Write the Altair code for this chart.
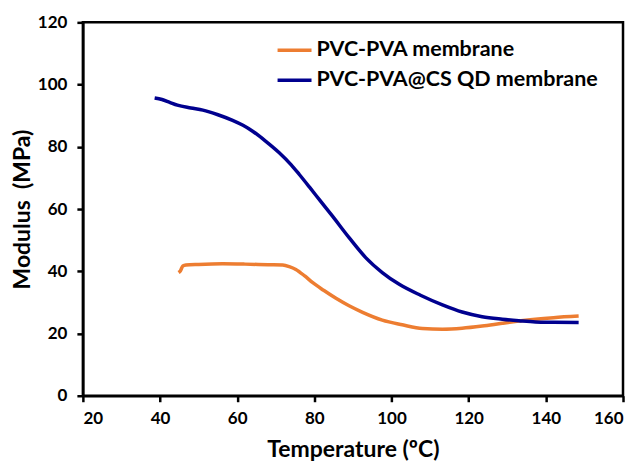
import altair as alt
import pandas as pd

series_names = ["PVC-PVA membrane", "PVC-PVA@CS QD membrane"]
series_colors = ["#ED7D31", "#00008F"]

pvc_temp = [44.8, 45.3, 45.9, 46.7, 50.0, 56.2, 62.0, 68.0, 71.8, 73.5, 75.2, 77.5, 79.5,
            82.5, 85.6, 89.0, 92.5, 97.6, 102.8, 108.0, 113.2, 118.3, 123.5, 128.7,
            133.0, 137.3, 142.0, 148.5]
pvc_mod = [39.6, 40.2, 41.7, 42.0, 42.2, 42.4, 42.3, 42.1, 42.0, 41.5, 40.6, 38.5, 36.4,
           33.8, 31.3, 28.9, 26.8, 24.3, 22.8, 21.6, 21.4, 21.7, 22.4, 23.3,
           24.0, 24.6, 25.1, 25.6]

cs_temp = [38.6, 40.5, 42.5, 44.5, 48.0, 51.1, 55.0, 58.8, 61.5, 64.0, 67.5, 70.9, 74.0,
           76.1, 78.7, 81.5, 84.7, 89.0, 93.3, 97.6, 102.0, 107.5, 113.2, 118.3, 123.5,
           128.7, 133.0, 137.3, 142.0, 148.5]
cs_mod = [95.7, 95.2, 94.3, 93.4, 92.5, 91.8, 90.3, 88.5, 86.9, 85.0, 81.7, 78.1, 74.2,
          71.1, 67.1, 62.7, 57.7, 50.8, 44.4, 39.6, 35.8, 32.3, 29.2, 26.9, 25.4,
          24.6, 24.1, 23.7, 23.6, 23.5]

x_ticks = [20, 40, 60, 80, 100, 120, 140, 160]
y_ticks = [0, 20, 40, 60, 80, 100, 120]

df = pd.concat([
    pd.DataFrame({"T": pvc_temp, "M": pvc_mod, "series": series_names[0]}),
    pd.DataFrame({"T": cs_temp, "M": cs_mod, "series": series_names[1]}),
])

FONT = "Lato"

chart = alt.Chart(df).mark_line(strokeWidth=3.5, interpolate="monotone").encode(
    x=alt.X("T:Q", scale=alt.Scale(domain=[20, 160], nice=False),
            axis=alt.Axis(values=x_ticks, title="Temperature (ºC)", labelPadding=9,
                          titlePadding=12)),
    y=alt.Y("M:Q", scale=alt.Scale(domain=[0, 120], nice=False),
            axis=alt.Axis(values=y_ticks, title="Modulus\u00a0 (MPa)", labelPadding=10,
                          titlePadding=3)),
    color=alt.Color("series:N",
                    scale=alt.Scale(domain=series_names, range=series_colors),
                    legend=alt.Legend(title=None, orient="none", legendX=193, legendY=9,
                                      symbolType="stroke", symbolSize=1156,
                                      symbolStrokeWidth=3.5, labelFontSize=21.5,
                                      labelFont=FONT, labelFontWeight="bold",
                                      labelColor="black", labelOffset=3,
                                      rowPadding=0, padding=0, labelLimit=400)),
).properties(
    width=541, height=374,
    padding={"left": 3, "top": 5, "right": 5, "bottom": 5},
).configure_view(
    stroke="black", strokeWidth=2.5,
).configure_axis(
    grid=False, domainColor="black", domainWidth=2.5, tickColor="black", tickWidth=2.5,
    tickSize=6, labelFont=FONT, labelFontSize=17, labelFontWeight="bold",
    labelColor="black", titleFont=FONT, titleFontSize=23, titleFontWeight="bold",
    titleColor="black",
)

chart.save("out.html", embed_options={"renderer": "svg", "actions": False})
